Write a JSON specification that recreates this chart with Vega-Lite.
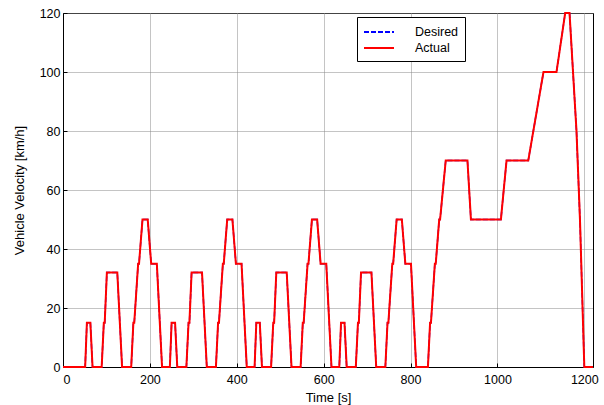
{
  "$schema": "https://vega.github.io/schema/vega-lite/v6.json",
  "width": 530,
  "height": 354,
  "autosize": {"type": "none"},
  "padding": {"left": 63, "top": 13, "right": 11, "bottom": 38},
  "background": "white",
  "config": {
    "font": "Liberation Sans",
    "view": {"stroke": "black", "strokeWidth": 1},
    "axis": {
      "domainColor": "black",
      "tickColor": "black",
      "labelColor": "black",
      "titleColor": "black",
      "labelFont": "Liberation Sans",
      "titleFont": "Liberation Sans",
      "labelFontSize": 12.5,
      "titleFontSize": 13,
      "titleFontWeight": "normal",
      "gridColor": "#888888",
      "gridDash": [1, 1],
      "gridWidth": 1,
      "gridOpacity": 1
    },
    "legend": {
      "title": null,
      "orient": "none",
      "legendX": 294,
      "legendY": 4,
      "strokeColor": "black",
      "fillColor": "white",
      "padding": 6,
      "cornerRadius": 0,
      "symbolType": "M-1,0H2.75",
      "symbolSize": 256,
      "symbolStrokeWidth": 2,
      "labelFontSize": 12.5,
      "labelFont": "Liberation Sans",
      "labelColor": "black",
      "labelOffset": 34,
      "rowPadding": 0,
      "labelExpr": "datum.label + '         '"
    }
  },
  "data": {
    "values": [
      {"t": 0, "Desired": 0, "Actual": 0},
      {"t": 51, "Desired": 0, "Actual": 0},
      {"t": 55, "Desired": 15, "Actual": 15},
      {"t": 63, "Desired": 15, "Actual": 15},
      {"t": 68, "Desired": 0, "Actual": 0},
      {"t": 89, "Desired": 0, "Actual": 0},
      {"t": 94, "Desired": 15, "Actual": 15},
      {"t": 96, "Desired": 15, "Actual": 15},
      {"t": 101, "Desired": 32, "Actual": 32},
      {"t": 125, "Desired": 32, "Actual": 32},
      {"t": 136, "Desired": 0, "Actual": 0},
      {"t": 157, "Desired": 0, "Actual": 0},
      {"t": 162, "Desired": 15, "Actual": 15},
      {"t": 164, "Desired": 15, "Actual": 15},
      {"t": 173, "Desired": 35, "Actual": 35},
      {"t": 175, "Desired": 35, "Actual": 35},
      {"t": 183, "Desired": 50, "Actual": 50},
      {"t": 195, "Desired": 50, "Actual": 50},
      {"t": 203, "Desired": 35, "Actual": 35},
      {"t": 216, "Desired": 35, "Actual": 35},
      {"t": 228, "Desired": 0, "Actual": 0},
      {"t": 246, "Desired": 0, "Actual": 0},
      {"t": 250, "Desired": 15, "Actual": 15},
      {"t": 258, "Desired": 15, "Actual": 15},
      {"t": 263, "Desired": 0, "Actual": 0},
      {"t": 284, "Desired": 0, "Actual": 0},
      {"t": 289, "Desired": 15, "Actual": 15},
      {"t": 291, "Desired": 15, "Actual": 15},
      {"t": 296, "Desired": 32, "Actual": 32},
      {"t": 320, "Desired": 32, "Actual": 32},
      {"t": 331, "Desired": 0, "Actual": 0},
      {"t": 352, "Desired": 0, "Actual": 0},
      {"t": 357, "Desired": 15, "Actual": 15},
      {"t": 359, "Desired": 15, "Actual": 15},
      {"t": 368, "Desired": 35, "Actual": 35},
      {"t": 370, "Desired": 35, "Actual": 35},
      {"t": 378, "Desired": 50, "Actual": 50},
      {"t": 390, "Desired": 50, "Actual": 50},
      {"t": 398, "Desired": 35, "Actual": 35},
      {"t": 411, "Desired": 35, "Actual": 35},
      {"t": 423, "Desired": 0, "Actual": 0},
      {"t": 441, "Desired": 0, "Actual": 0},
      {"t": 445, "Desired": 15, "Actual": 15},
      {"t": 453, "Desired": 15, "Actual": 15},
      {"t": 458, "Desired": 0, "Actual": 0},
      {"t": 479, "Desired": 0, "Actual": 0},
      {"t": 484, "Desired": 15, "Actual": 15},
      {"t": 486, "Desired": 15, "Actual": 15},
      {"t": 491, "Desired": 32, "Actual": 32},
      {"t": 515, "Desired": 32, "Actual": 32},
      {"t": 526, "Desired": 0, "Actual": 0},
      {"t": 547, "Desired": 0, "Actual": 0},
      {"t": 552, "Desired": 15, "Actual": 15},
      {"t": 554, "Desired": 15, "Actual": 15},
      {"t": 563, "Desired": 35, "Actual": 35},
      {"t": 565, "Desired": 35, "Actual": 35},
      {"t": 573, "Desired": 50, "Actual": 50},
      {"t": 585, "Desired": 50, "Actual": 50},
      {"t": 593, "Desired": 35, "Actual": 35},
      {"t": 606, "Desired": 35, "Actual": 35},
      {"t": 618, "Desired": 0, "Actual": 0},
      {"t": 636, "Desired": 0, "Actual": 0},
      {"t": 640, "Desired": 15, "Actual": 15},
      {"t": 648, "Desired": 15, "Actual": 15},
      {"t": 653, "Desired": 0, "Actual": 0},
      {"t": 674, "Desired": 0, "Actual": 0},
      {"t": 679, "Desired": 15, "Actual": 15},
      {"t": 681, "Desired": 15, "Actual": 15},
      {"t": 686, "Desired": 32, "Actual": 32},
      {"t": 710, "Desired": 32, "Actual": 32},
      {"t": 721, "Desired": 0, "Actual": 0},
      {"t": 742, "Desired": 0, "Actual": 0},
      {"t": 747, "Desired": 15, "Actual": 15},
      {"t": 749, "Desired": 15, "Actual": 15},
      {"t": 758, "Desired": 35, "Actual": 35},
      {"t": 760, "Desired": 35, "Actual": 35},
      {"t": 768, "Desired": 50, "Actual": 50},
      {"t": 780, "Desired": 50, "Actual": 50},
      {"t": 788, "Desired": 35, "Actual": 35},
      {"t": 801, "Desired": 35, "Actual": 35},
      {"t": 813, "Desired": 0, "Actual": 0},
      {"t": 840, "Desired": 0, "Actual": 0},
      {"t": 845, "Desired": 15, "Actual": 15},
      {"t": 847, "Desired": 15, "Actual": 15},
      {"t": 856, "Desired": 35, "Actual": 35},
      {"t": 858, "Desired": 35, "Actual": 35},
      {"t": 866, "Desired": 50, "Actual": 50},
      {"t": 868, "Desired": 50, "Actual": 50},
      {"t": 881, "Desired": 70, "Actual": 70},
      {"t": 931, "Desired": 70, "Actual": 70},
      {"t": 939, "Desired": 50, "Actual": 50},
      {"t": 1008, "Desired": 50, "Actual": 50},
      {"t": 1021, "Desired": 70, "Actual": 70},
      {"t": 1071, "Desired": 70, "Actual": 70},
      {"t": 1106, "Desired": 100, "Actual": 100},
      {"t": 1136, "Desired": 100, "Actual": 100},
      {"t": 1156, "Desired": 120, "Actual": 120},
      {"t": 1166, "Desired": 120, "Actual": 120},
      {"t": 1182, "Desired": 80, "Actual": 80},
      {"t": 1190, "Desired": 50, "Actual": 50},
      {"t": 1200, "Desired": 0, "Actual": 0},
      {"t": 1220, "Desired": 0, "Actual": 0}
    ]
  },
  "transform": [{"fold": ["Desired", "Actual"], "as": ["series", "v"]}],
  "encoding": {
    "y": {
      "field": "v",
      "type": "quantitative",
      "scale": {"domain": [0, 120], "nice": false},
      "axis": {"title": "Vehicle Velocity [km/h]", "values": [0, 20, 40, 60, 80, 100, 120], "format": "d", "tickSize": -4, "labelPadding": 7, "titlePadding": 13, "grid": true}
    },
    "color": {
      "field": "series",
      "type": "nominal",
      "scale": {"domain": ["Desired", "Actual"], "range": ["#0000ff", "#ff0000"]}
    },
    "strokeDash": {
      "field": "series",
      "type": "nominal",
      "scale": {"domain": ["Desired", "Actual"], "range": [[5, 2], [1, 0]]}
    }
  },
  "layer": [
    {
      "transform": [{"filter": "datum.series === 'Desired'"}],
      "mark": {"type": "line", "strokeWidth": 1.5},
      "encoding": {
        "x": {
          "field": "t",
          "type": "quantitative",
          "scale": {"domain": [0, 1220], "nice": false},
          "axis": {"title": "Time [s]", "values": [0, 200, 400, 600, 800, 1000, 1200], "format": "d", "tickSize": -4, "labelPadding": 10, "titlePadding": 6, "grid": true}
        }
      }
    },
    {
      "transform": [{"filter": "datum.series === 'Actual'"}],
      "mark": {"type": "line", "strokeWidth": 2},
      "encoding": {
        "x": {
          "field": "t",
          "type": "quantitative",
          "scale": {"domain": [0, 1220], "nice": false}
        }
      }
    }
  ]
}
